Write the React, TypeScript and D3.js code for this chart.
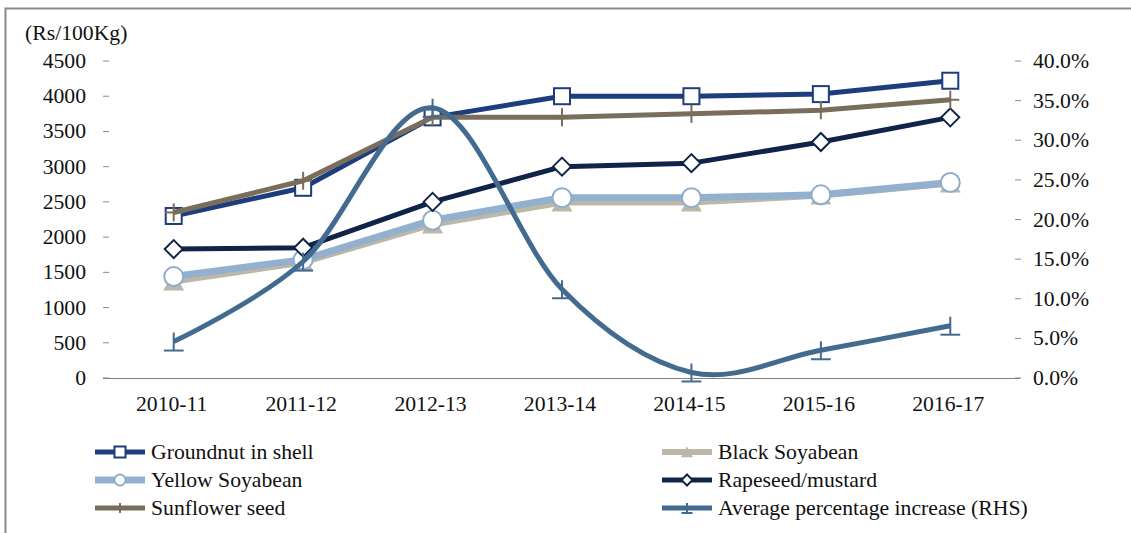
import React from "react";
import * as d3 from "d3";

const categories = ["2010-11", "2011-12", "2012-13", "2013-14", "2014-15", "2015-16", "2016-17"];
const groundnut = [2300, 2700, 3700, 4000, 4000, 4030, 4220];
const blackSoyabean = [1370, 1640, 2180, 2490, 2490, 2590, 2760];
const yellowSoyabean = [1440, 1680, 2240, 2560, 2560, 2600, 2775];
const rapeseed = [1830, 1850, 2500, 3000, 3050, 3350, 3700];
const sunflower = [2350, 2800, 3700, 3700, 3750, 3800, 3950];
const avgIncrease = [4.6, 14.7, 34.1, 11.2, 0.7, 3.5, 6.6];
const leftTicks = [0, 500, 1000, 1500, 2000, 2500, 3000, 3500, 4000, 4500];
const rightTicks = [0, 5, 10, 15, 20, 25, 30, 35, 40];

type Marker = "square" | "triangle" | "circle" | "diamond" | "plus" | "tee";
interface Series {
  name: string;
  values: number[];
  color: string;
  width: number;
  marker: Marker;
  mstroke: string;
  axis: "L" | "R";
}

const series: Series[] = [
  { name: "Groundnut in shell", values: groundnut, color: "#1d3d7c", width: 5, marker: "square", mstroke: "#1d3d7c", axis: "L" },
  { name: "Black Soyabean", values: blackSoyabean, color: "#bdb7a7", width: 6, marker: "triangle", mstroke: "#bdb7a7", axis: "L" },
  { name: "Yellow Soyabean", values: yellowSoyabean, color: "#93b1ce", width: 7, marker: "circle", mstroke: "#8eadcb", axis: "L" },
  { name: "Rapeseed/mustard", values: rapeseed, color: "#0f2448", width: 5, marker: "diamond", mstroke: "#0f2448", axis: "L" },
  { name: "Sunflower seed", values: sunflower, color: "#7a6d5b", width: 5, marker: "plus", mstroke: "#7a6d5b", axis: "L" },
  { name: "Average percentage increase (RHS)", values: avgIncrease, color: "#436b90", width: 5, marker: "tee", mstroke: "#436b90", axis: "R" },
];

const FONT = "Liberation Serif, Times New Roman, serif";
const FS = 21.7;

function MarkerShape({ type, x, y, s, color, stroke }: { type: Marker; x: number; y: number; s: number; color: string; stroke: string }) {
  const h = s / 2;
  switch (type) {
    case "square":
      return <rect x={x - h} y={y - h} width={s} height={s} fill="#fff" stroke={stroke} strokeWidth={2} />;
    case "circle":
      return <circle cx={x} cy={y} r={h} fill="#fff" stroke={stroke} strokeWidth={2} />;
    case "diamond":
      return <path d={`M${x},${y - h}L${x + h},${y}L${x},${y + h}L${x - h},${y}Z`} fill="#fff" stroke={stroke} strokeWidth={2} />;
    case "triangle":
      return <path d={`M${x},${y - h}L${x + h * 1.1},${y + h * 0.95}L${x - h * 1.1},${y + h * 0.95}Z`} fill={color} stroke="none" />;
    case "plus":
      return (
        <g stroke={stroke} strokeWidth={2}>
          <line x1={x} x2={x} y1={y - h} y2={y + h} />
          <line x1={x - h} x2={x + h} y1={y} y2={y} />
        </g>
      );
    case "tee":
      return (
        <g stroke={stroke} strokeWidth={2}>
          <line x1={x} x2={x} y1={y - h} y2={y + h} />
          <line x1={x - h * 1.1} x2={x + h * 1.1} y1={y + h} y2={y + h} />
        </g>
      );
  }
  return null;
}

const markerSize: Record<Marker, number> = { square: 16, triangle: 19, circle: 19, diamond: 18, plus: 18, tee: 18 };
const legendMarkerSize: Record<Marker, number> = { square: 11, triangle: 11, circle: 11, diamond: 11, plus: 10, tee: 10 };

export default function App() {
  const W = 1131;
  const H = 533;
  const x = d3.scaleBand<string>().domain(categories).range([109, 1015]).padding(0);
  const cx = (c: string) => (x(c) as number) + x.bandwidth() / 2;
  const yL = d3.scaleLinear().domain([0, 4500]).range([378, 61]);
  const yR = d3.scaleLinear().domain([0, 40]).range([378, 61]);

  const linear = d3.line<[number, number]>().x((d) => d[0]).y((d) => d[1]).curve(d3.curveLinear);
  const smooth = d3.line<[number, number]>().x((d) => d[0]).y((d) => d[1]).curve(d3.curveCardinal.tension(0));

  const legendPos = series.map((_, i) => ({ col: i % 2, row: Math.floor(i / 2) }));
  const colX = [95, 662];
  const rowY = [452, 480, 508];

  return (
    <div style={{ position: "absolute", left: 0, top: 0 }}>
      <svg width={W} height={H} style={{ display: "block", background: "#fff", fontFamily: FONT }}>
        <rect x={5.5} y={8.5} width={1200} height={600} fill="none" stroke="#8a8a8a" strokeWidth={2} />
        <text x={25} y={40} fontSize={FS} fill="#111">(Rs/100Kg)</text>

        {leftTicks.map((t) => (
          <g key={"l" + t}>
            <text x={86} y={yL(t) + 7} fontSize={FS} textAnchor="end" fill="#111">{t}</text>
            <line x1={103} x2={109} y1={yL(t)} y2={yL(t)} stroke="#8a8a8a" strokeWidth={1} />
          </g>
        ))}
        {rightTicks.map((t) => (
          <g key={"r" + t}>
            <text x={1033} y={yR(t) + 7} fontSize={FS} fill="#111">{t.toFixed(1) + "%"}</text>
            <line x1={1015} x2={1021} y1={yR(t)} y2={yR(t)} stroke="#8a8a8a" strokeWidth={1} />
          </g>
        ))}
        <line x1={103} x2={1020} y1={378.5} y2={378.5} stroke="#808080" strokeWidth={1} />
        {categories.map((c) => (
          <text key={c} x={cx(c) - 2} y={411} fontSize={FS} textAnchor="middle" fill="#111">{c}</text>
        ))}

        {series.map((s) => {
          const ys = s.axis === "L" ? yL : yR;
          const pts: [number, number][] = s.values.map((v, i) => [cx(categories[i]), ys(v)]);
          const gen = s.axis === "R" ? smooth : linear;
          return (
            <g key={s.name}>
              <path d={gen(pts) || ""} fill="none" stroke={s.color} strokeWidth={s.width} strokeLinejoin="round" />
              {pts.map((p, i) => (
                <MarkerShape key={i} type={s.marker} x={p[0]} y={p[1]} s={markerSize[s.marker]} color={s.color} stroke={s.mstroke} />
              ))}
            </g>
          );
        })}

        {series.map((s, i) => {
          const { col, row } = legendPos[i];
          const lx = colX[col];
          const ly = rowY[row];
          return (
            <g key={"lg" + s.name}>
              <line x1={lx} x2={lx + 50} y1={ly} y2={ly} stroke={s.color} strokeWidth={s.width} />
              <MarkerShape type={s.marker} x={lx + 25} y={ly} s={legendMarkerSize[s.marker]} color={s.color} stroke={s.mstroke} />
              <text x={lx + 56} y={ly + 7} fontSize={FS} fill="#111">{s.name}</text>
            </g>
          );
        })}
      </svg>
    </div>
  );
}
